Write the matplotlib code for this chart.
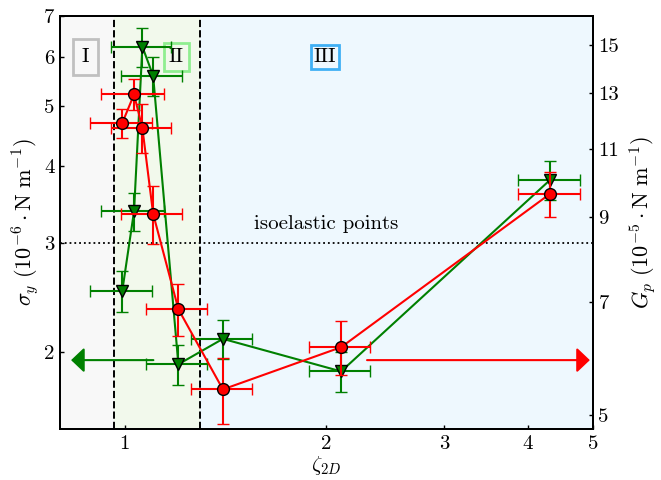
import matplotlib
matplotlib.use('agg')
from matplotlib import pyplot
from matplotlib import rcParams
from matplotlib.ticker import FixedLocator, FixedFormatter, NullLocator

rcParams['font.family'] = 'serif'
rcParams['font.serif'] = ['cmr10']
rcParams['mathtext.fontset'] = 'cm'
rcParams['axes.formatter.use_mathtext'] = True
rcParams['font.size'] = 15

# zeta_2D values (shared by both series)
zeta = [0.991, 1.032, 1.062, 1.102, 1.202, 1.401, 2.104, 4.32]
zeta_err = [0.105, 0.111, 0.11, 0.115, 0.125, 0.147, 0.22, 0.46]

# yield stress sigma_y (left axis, green)
sigma_y = [2.51, 3.38, 6.24, 5.60, 1.91, 2.10, 1.86, 3.80]
sigma_y_err = [0.19, 0.24, 0.46, 0.41, 0.14, 0.155, 0.14, 0.28]

# plateau modulus G_p (right axis, red)
g_p = [11.90, 12.95, 11.72, 9.09, 6.85, 5.40, 6.12, 9.65]
g_p_err = [0.52, 0.60, 0.85, 0.77, 0.53, 0.52, 0.49, 0.65]

regime_edges = [0.962, 1.293]
isoelastic_sigma = 3.0

# axis arrows: (x start, x tip, y)
green_arrow = (1.103, 0.831, 1.94)
red_arrow = (2.30, 4.95, 5.89)

x_ticks = [1, 2, 3, 4, 5]
left_ticks = [2, 3, 4, 5, 6, 7]
right_ticks = [5, 7, 9, 11, 13, 15]

fig = pyplot.figure(figsize=(6.61, 4.8), dpi=100)
ax = fig.add_axes([0.0908, 0.106, 0.806, 0.861])
ax.set_xscale('log')
ax.set_yscale('log')
ax.set_xlim(0.80, 5.0)
ax.set_ylim(1.5, 7.0)

# regime backgrounds
ax.axvspan(0.80, regime_edges[0], color='#f8f8f8', zorder=0, lw=0)
ax.axvspan(regime_edges[0], regime_edges[1], color='#f2f9ec', zorder=0, lw=0)
ax.axvspan(regime_edges[1], 5.0, color='#eef8fe', zorder=0, lw=0)
for e in regime_edges:
  ax.axvline(e, color='k', ls='--', lw=1.4, zorder=1)

ax.axhline(isoelastic_sigma, color='k', ls=':', lw=1.3, zorder=1)
ax.text(2.0, 3.22, 'isoelastic points', ha='center', va='center', fontsize=15)

box_kw = dict(ha='center', va='center', fontsize=15)
ax.text(0.873, 6.0, 'I', bbox=dict(boxstyle='square,pad=0.42', fc='none', ec='#c0c0c0', lw=2), **box_kw)
ax.text(1.194, 6.0, 'II', bbox=dict(boxstyle='square,pad=0.25', fc='none', ec='#90ee90', lw=2), **box_kw)
ax.text(1.992, 6.0, 'III', bbox=dict(boxstyle='square,pad=0.14', fc='none', ec='#3fb0f5', lw=2), **box_kw)

ax.errorbar(zeta, sigma_y, xerr=zeta_err, yerr=sigma_y_err, color='green', ecolor='green',
            marker='v', ms=8.5, mfc='green', mec='k', mew=1, lw=1.5, elinewidth=1.5,
            capsize=4.5, capthick=1.5, zorder=3)
ax.annotate('', xy=(green_arrow[1], green_arrow[2]), xytext=(green_arrow[0], green_arrow[2]),
            arrowprops=dict(arrowstyle='-|>,head_length=0.4,head_width=0.38', color='green',
                            lw=1.5, mutation_scale=20, shrinkA=0, shrinkB=0), zorder=3)

ax2 = ax.twinx()
ax2.set_yscale('log')
ax2.set_ylim(4.80, 16.35)
ax2.errorbar(zeta, g_p, xerr=zeta_err, yerr=g_p_err, color='red', ecolor='red',
             marker='o', ms=8.5, mfc='red', mec='k', mew=1, lw=1.5, elinewidth=1.5,
             capsize=4.5, capthick=1.5, zorder=3)
ax2.annotate('', xy=(red_arrow[1], red_arrow[2]), xytext=(red_arrow[0], red_arrow[2]),
             arrowprops=dict(arrowstyle='-|>,head_length=0.4,head_width=0.38', color='red',
                             lw=1.5, mutation_scale=20, shrinkA=0, shrinkB=0), zorder=3)

ax.xaxis.set_major_locator(FixedLocator(x_ticks))
ax.xaxis.set_major_formatter(FixedFormatter([str(t) for t in x_ticks]))
ax.xaxis.set_minor_locator(NullLocator())
ax.yaxis.set_major_locator(FixedLocator(left_ticks))
ax.yaxis.set_major_formatter(FixedFormatter([str(t) for t in left_ticks]))
ax.yaxis.set_minor_locator(NullLocator())
ax2.yaxis.set_major_locator(FixedLocator(right_ticks))
ax2.yaxis.set_major_formatter(FixedFormatter([str(t) for t in right_ticks]))
ax2.yaxis.set_minor_locator(NullLocator())

for a in (ax, ax2):
  a.tick_params(direction='in', length=3, width=1, labelsize=15, pad=4)
  for s in a.spines.values():
    s.set_linewidth(1.4)

ax.set_xlabel(r'$\zeta_{2D}$', fontsize=15, labelpad=1)
ax.set_ylabel(r'$\sigma_y\ (10^{-6}\cdot\mathrm{N\ m}^{-1})$', fontsize=16, labelpad=2)
ax2.set_ylabel(r'$G_p\ (10^{-5}\cdot\mathrm{N\ m}^{-1})$', fontsize=16, labelpad=6)

fig.savefig('out.png', dpi=100)
pyplot.close(fig)
